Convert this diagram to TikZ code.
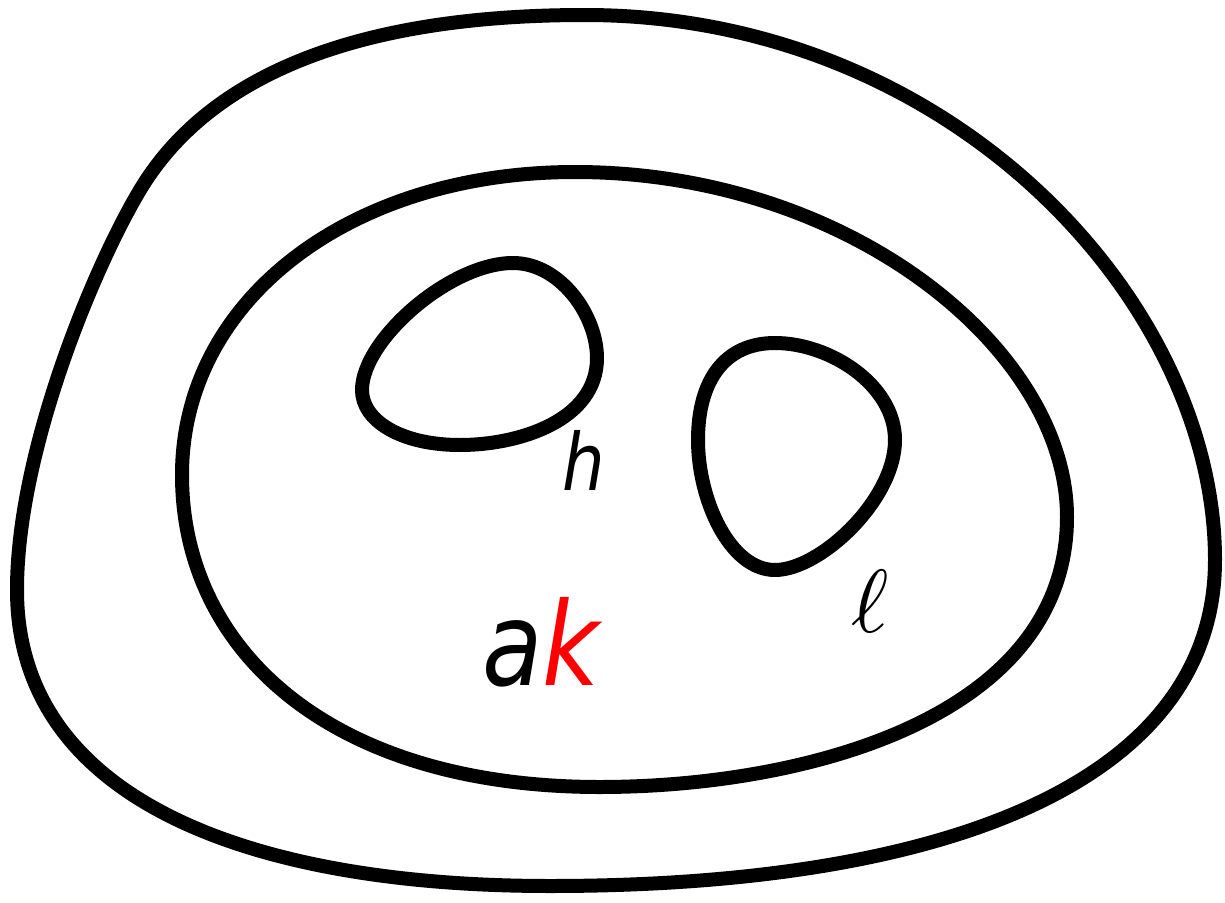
\documentclass[tikz,border=0pt]{standalone}
\usepackage{fontspec}
\usepackage{xcolor}
\usepackage{tikz}
\usetikzlibrary{calc}
\newfontfamily\labelfont{DejaVu Sans}

\begin{document}
\begin{tikzpicture}[x=0.02cm,y=-0.02cm]
  \useasboundingbox (0,0) rectangle (1225,903);
  \tikzset{curve/.style={line width=0.28cm,line join=round},
    lbl/.style={inner sep=0pt,xscale=0.85}}

  % outer region
  \draw[curve] (585,15) .. controls (330,15) and (200,90) .. (140,190)
    .. controls (95,265) and (17,450) .. (17,590)
    .. controls (17,800) and (250,886) .. (550,886)
    .. controls (950,886) and (1215,780) .. (1215,560)
    .. controls (1215,300) and (950,15) .. cycle;

  % middle region
  \draw[curve] (575,172) .. controls (850,172) and (1067,350) .. (1067,517)
    .. controls (1067,720) and (800,787) .. (600,787)
    .. controls (330,787) and (182,650) .. (182,475)
    .. controls (182,300) and (350,172) .. cycle;

  % holes
  \draw[curve] (513,263) .. controls (560,263) and (597,315) .. (597,358)
    .. controls (597,420) and (520,445) .. (460,445)
    .. controls (400,445) and (362,420) .. (362,390)
    .. controls (362,340) and (450,263) .. cycle;
  \draw[curve] (775,343) .. controls (830,343) and (895,385) .. (895,440)
    .. controls (895,500) and (820,570) .. (775,570)
    .. controls (730,570) and (698,500) .. (698,440)
    .. controls (698,380) and (725,343) .. cycle;

  % labels
  \node[lbl] (h) at (584,460) {\labelfont\itshape\fontsize{45}{45}\selectfont h};
  \node[lbl] (ak) at (541,642) {\labelfont\itshape\fontsize{66}{66}\selectfont a\textcolor{red}{k}};
  \node[inner sep=0pt,scale=5.1] (ell) at (870,601) {$\ell$};
\end{tikzpicture}
\end{document}
